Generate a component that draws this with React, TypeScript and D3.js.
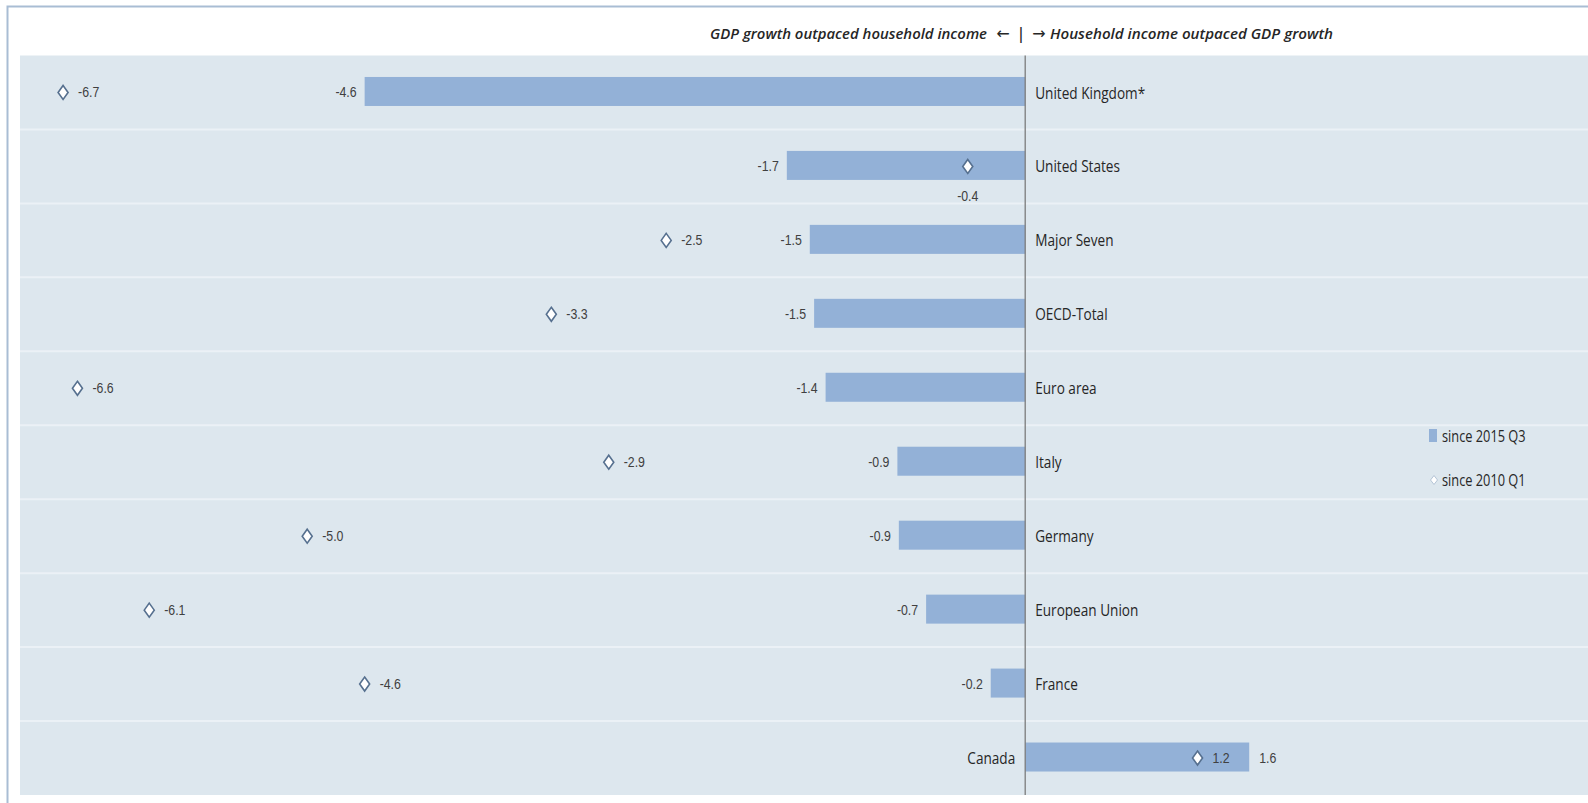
import React from "react";
import * as d3 from "d3";

const categories = [
  "United Kingdom*",
  "United States",
  "Major Seven",
  "OECD-Total",
  "Euro area",
  "Italy",
  "Germany",
  "European Union",
  "France",
  "Canada",
];
const since2015Q3 = [-4.6, -1.66, -1.5, -1.47, -1.39, -0.89, -0.88, -0.69, -0.24, 1.56];
const since2010Q1 = [-6.7, -0.4, -2.5, -3.3, -6.6, -2.9, -5.0, -6.1, -4.6, 1.2];
const legendLabels = ["since 2015 Q3", "since 2010 Q1"];
const headerLeft = "GDP growth outpaced household income";
const headerRight = "Household income outpaced GDP growth";

const W = 1588;
const H = 803;
const plotTop = 55.5;
const plotBottom = 795;
const plotLeft = 20;

const FONT = "'Open Sans', 'Liberation Sans', Arial, sans-serif";
const NUMFONT = "'Liberation Sans', Arial, sans-serif";
const ARROWFONT = "'DejaVu Sans', sans-serif";

function CText(props: {
  x: number;
  y: number;
  sx?: number;
  size: number;
  anchor?: string;
  fill?: string;
  family?: string;
  weight?: string | number;
  style?: string;
  children: React.ReactNode;
}) {
  const { x, y, sx = 0.82, size, anchor = "start", fill = "#262626", family = FONT, weight = "normal", style = "normal", children } = props;
  return (
    <text
      transform={`translate(${x},${y}) scale(${sx},1)`}
      fontSize={size}
      fontFamily={family}
      textAnchor={anchor}
      dominantBaseline="central"
      fill={fill}
      fontWeight={weight}
      fontStyle={style}
    >
      {children}
    </text>
  );
}

export default function App() {
  const x = d3.scaleLinear().domain([-7, 4]).range([plotLeft, plotLeft + 11 * 143.6]);
  const row = d3.scaleBand<string>().domain(categories).range([plotTop, plotBottom]).padding(0);
  const step = row.step();
  const barH = 29;
  const x0 = x(0);
  const diamond = (cx: number, cy: number, w: number, h: number) =>
    `M${cx},${cy - h / 2}L${cx + w / 2},${cy}L${cx},${cy + h / 2}L${cx - w / 2},${cy}Z`;
  const fmt = (v: number) => v.toFixed(1);

  return (
    <svg
      width={W}
      height={H}
      style={{ position: "absolute", left: 0, top: 0, background: "#ffffff" }}
    >
      <rect x={0} y={0} width={W} height={H} fill="#ffffff" />
      <rect x={7.5} y={6.5} width={W + 20} height={H + 20} fill="#ffffff" stroke="#a9bdd4" strokeWidth={2} />
      {/* plot area */}
      <rect x={plotLeft} y={plotTop} width={W - plotLeft + 10} height={plotBottom - plotTop} fill="#dde7ee" />
      {categories.slice(1).map((c) => (
        <line
          key={"sep" + c}
          x1={plotLeft}
          x2={W}
          y1={row(c)!}
          y2={row(c)!}
          stroke="#ebf1f6"
          strokeWidth={2}
        />
      ))}
      {/* header */}
      <text
        x={710}
        y={33}
        fontSize={15}
        fontFamily={FONT}
        fontStyle="italic"
        fontWeight={600}
        fill="#262626"
        dominantBaseline="central"
        textLength={277}
        lengthAdjust="spacingAndGlyphs"
      >
        {headerLeft}
      </text>
      <text x={1003} y={33} fontSize={16} fontFamily={ARROWFONT} fill="#262626" dominantBaseline="central" textAnchor="middle">
        {"\u2190"}
      </text>
      <text x={1021} y={33} fontSize={16} fontFamily={ARROWFONT} fill="#262626" dominantBaseline="central" textAnchor="middle">
        |
      </text>
      <text x={1039} y={33} fontSize={16} fontFamily={ARROWFONT} fill="#262626" dominantBaseline="central" textAnchor="middle">
        {"\u2192"}
      </text>
      <text
        x={1050}
        y={33}
        fontSize={15}
        fontFamily={FONT}
        fontStyle="italic"
        fontWeight={600}
        fill="#262626"
        dominantBaseline="central"
        textLength={283}
        lengthAdjust="spacingAndGlyphs"
      >
        {headerRight}
      </text>
      {/* bars */}
      {categories.map((c, i) => {
        const v = since2015Q3[i];
        const cy = row(c)! + step / 2 - 1;
        return (
          <rect
            key={"bar" + c}
            x={Math.min(x(v), x0)}
            y={cy - barH / 2}
            width={Math.abs(x(v) - x0)}
            height={barH}
            fill="#93b1d7"
          />
        );
      })}
      {/* zero line */}
      <line x1={x0} x2={x0} y1={plotTop} y2={plotBottom} stroke="#7b7b7b" strokeWidth={1.3} />
      {/* bar labels */}
      {categories.map((c, i) => {
        const v = since2015Q3[i];
        const cy = row(c)! + step / 2;
        return (
          <CText
            key={"bl" + c}
            x={v < 0 ? x(v) - 8 : x(v) + 10}
            y={cy}
            size={14.5}
            sx={0.85}
            family={NUMFONT}
            anchor={v < 0 ? "end" : "start"}
            fill="#404040"
          >
            {fmt(v)}
          </CText>
        );
      })}
      {/* diamonds */}
      {categories.map((c, i) => {
        const v = since2010Q1[i];
        const cy = row(c)! + step / 2;
        return (
          <path
            key={"dm" + c}
            d={diamond(x(v), cy, 10, 14)}
            fill="#ffffff"
            stroke="#56708f"
            strokeWidth={1.6}
          />
        );
      })}
      {categories.map((c, i) => {
        const v = since2010Q1[i];
        const cy = row(c)! + step / 2;
        const below = i === 1;
        return (
          <CText
            key={"dl" + c}
            x={below ? x(v) : x(v) + 15}
            y={below ? cy + 30 : cy}
            size={14.5}
            sx={0.85}
            family={NUMFONT}
            anchor={below ? "middle" : "start"}
            fill="#404040"
          >
            {fmt(v)}
          </CText>
        );
      })}
      {/* category labels */}
      {categories.map((c, i) => {
        const v = since2015Q3[i];
        const cy = row(c)! + step / 2;
        return (
          <CText
            key={"cl" + c}
            x={v < 0 ? x0 + 10 : x0 - 10}
            y={cy}
            size={17}
            sx={0.8}
            anchor={v < 0 ? "start" : "end"}
            fill="#262626"
          >
            {c}
          </CText>
        );
      })}
      {/* legend */}
      <rect x={1429} y={429} width={8} height={13} fill="#93b1d7" />
      <CText x={1442} y={436} size={16} sx={0.8}>
        {legendLabels[0]}
      </CText>
      <path d={diamond(1434, 480, 7, 9)} fill="#ffffff" stroke="#b4c4d6" strokeWidth={1} />
      <CText x={1442} y={480} size={16} sx={0.8}>
        {legendLabels[1]}
      </CText>
    </svg>
  );
}
